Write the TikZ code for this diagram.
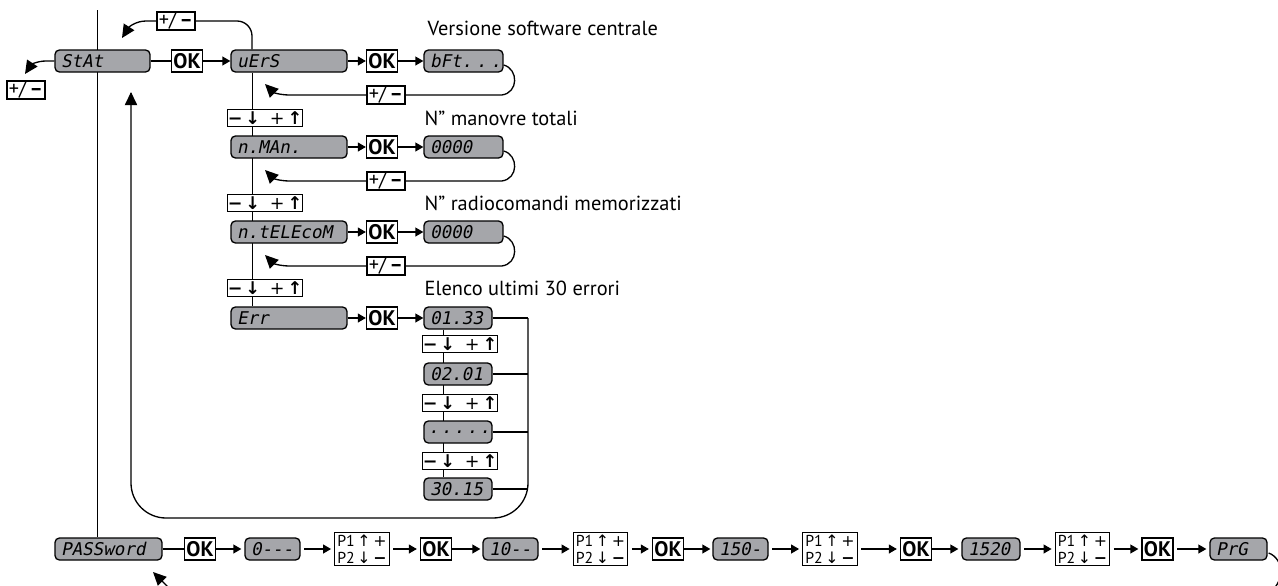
\documentclass[tikz,border=0pt]{standalone}
\usepackage{fontspec}
\setmainfont{PT Sans}
\newfontfamily\lcd{DejaVu Sans Mono}[FakeSlant=0.2]
\newfontfamily\sym{DejaVu Sans}
\usetikzlibrary{arrows.meta,backgrounds,calc}
\definecolor{lcdgray}{RGB}{165,166,170}
\newcommand\updn{{\sym\bfseries\char"2212}\,{\sym\bfseries\char"2193}\;\;{\sym +}\,{\sym\bfseries\char"2191}}
\newcommand\pmtxt{+/\,\textbf{\char"2013}}
\newcommand\pptxt{P1\,{\sym\char"2191}\,{\sym +}\\P2\,{\sym\char"2193}\,{\sym\bfseries\char"2212}}
\begin{document}
\begin{tikzpicture}[x=0.02cm,y=-0.02cm,line width=0.75pt,
  disp/.style={draw,fill=lcdgray,rounded corners=2.5pt,minimum height=0.44cm,text width=#1,align=left,inner xsep=0.12cm,inner ysep=0pt,font=\lcd\fontsize{10}{10}\selectfont},
  okbox/.style={draw,fill=white,minimum width=0.62cm,minimum height=0.44cm,inner sep=0pt,font=\bfseries\fontsize{12}{12}\selectfont},
  updown/.style={draw,fill=white,minimum width=1.44cm,minimum height=0.34cm,inner sep=0pt,font=\fontsize{10}{10}\selectfont},
  pmbox/.style={draw,fill=white,minimum width=0.76cm,minimum height=0.36cm,inner sep=0pt,font=\fontsize{11.5}{11.5}\selectfont},
  pbox/.style={draw,fill=white,minimum width=1.08cm,minimum height=0.66cm,inner xsep=1.5pt,inner ysep=0.5pt,align=left,font=\fontsize{9}{9.6}\selectfont},
  lbl/.style={anchor=west,inner sep=0pt,font=\fontsize{11.6}{11.6}\selectfont},
  conn/.style={-{Triangle[length=4.5pt,width=5pt]}},
  barrow/.style={-{Triangle[length=4.5pt,width=5pt]},shorten <=0.07cm,shorten >=0.06cm},
  big/.style={-{Triangle[length=7.5pt,width=7pt]}}
]
\useasboundingbox (0,0) rectangle (1278,585);
\clip (0,0) rectangle (1278,585);
\coordinate (top) at (97,10);
\coordinate (vx) at (252,0);
\coordinate (ex) at (443,0);
\coordinate (rx) at (528,0);
\coordinate (lx) at (131,0);

% top structure
\node[disp=1.66cm] (stat) at (102.5,61) {StAt};
\node[okbox] (ok1) at (187,61) {OK};
\node[disp=2.08cm] (vers) at (289,61) {uErS};
\node[okbox] (ok2) at (382,61) {OK};
\node[disp=1.34cm] (bft) at (463.5,61) {\makebox[\linewidth][l]{bFt.\kern2.2pt.\kern2.2pt.}};
\node[pmbox] (ptop) at (176,21) {\pmtxt};
\node[pmbox] (pst) at (26,90) {\pmtxt};
\node[pmbox] (pm1) at (386,95) {\pmtxt};
\node[updown] (b1) at (265,118) {\updn};
\node[disp=2.08cm] (nman) at (289,147) {n.MAn.};
\node[okbox] (ok3) at (382,147) {OK};
\node[disp=1.34cm] (v2) at (463.5,147) {0000};
\node[pmbox] (pm2) at (386,181) {\pmtxt};
\node[updown] (b2) at (265,203) {\updn};
\node[disp=2.08cm] (ntel) at (289,232) {n.tELEcoM};
\node[okbox] (ok4) at (382,232) {OK};
\node[disp=1.34cm] (v3) at (463.5,232) {0000};
\node[pmbox] (pm3) at (386,266) {\pmtxt};
\node[updown] (b3) at (265,288) {\updn};
\node[disp=2.08cm] (err) at (289,318) {Err};
\node[okbox] (ok5) at (382,318) {OK};
\node[disp=1.12cm] (e1) at (458,318) {01.33};
\node[updown] (bb1) at (460,344) {\updn};
\node[disp=1.12cm] (e2) at (458,374) {02.01};
\node[updown] (bb2) at (460,403) {\updn};
\node[disp=1.12cm] (e3) at (458,432) {\makebox[\linewidth][l]{\kern-1pt.\kern1.3pt.\kern1.3pt.\kern1.3pt.\kern1.3pt.}};
\node[updown] (bb3) at (460,461) {\updn};
\node[disp=1.12cm] (e4) at (458,489) {30.15};

\node[lbl] (t1) at (427,28) {Versione software centrale};
\node[lbl] (t2) at (424,118) {N” manovre totali};
\node[lbl] (t3) at (424,203) {N” radiocomandi memorizzati};
\node[lbl] (t4) at (424,288) {Elenco ultimi 30 errori};

% bottom row
\node[disp=1.9cm] (pw) at (108.5,549) {PASSword};
\node[okbox] (okb1) at (200,549) {OK};
\node[disp=0.86cm] (d1) at (272.5,549) {0-{}-{}-};
\node[pbox] (p1a) at (362,549) {\pptxt};
\node[okbox] (okb2) at (436,549) {OK};
\node[disp=0.86cm] (d2) at (510.5,549) {10-{}-};
\node[pbox] (p1b) at (600.5,549) {\pptxt};
\node[okbox] (okb3) at (668,549) {OK};
\node[disp=0.86cm] (d3) at (740.5,549) {150-};
\node[pbox] (p1c) at (830,549) {\pptxt};
\node[okbox] (okb4) at (916,549) {OK};
\node[disp=0.92cm] (d4) at (991,549) {1520};
\node[pbox] (p1d) at (1082.5,549) {\pptxt};
\node[okbox] (okb5) at (1157.5,549) {OK};
\node[disp=0.9cm] (d5) at (1238.5,549) {PrG};

\coordinate (pwin) at (153,572);
\coordinate (pwfrom) at (180,599);

\begin{scope}[on background layer]
\draw (top) -- (top |- pw.north);
\draw (vx |- vers.south) -- (vx |- err.north);
\draw (ex |- e1.south) -- (ex |- e4.north);
\end{scope}

% row connectors
\draw (stat) -- (ok1);
\draw[conn] (ok1) -- (vers);
\draw[conn] (vers) -- (ok2);
\draw[conn] (ok2) -- (bft);
\draw[conn] (nman) -- (ok3);
\draw[conn] (ok3) -- (v2);
\draw[conn] (ntel) -- (ok4);
\draw[conn] (ok4) -- (v3);
\draw[conn] (err) -- (ok5);
\draw[conn] (ok5) -- (e1);

% loops
\draw[rounded corners=0.3cm] (vx |- vers.north) -- (vx |- ptop) -- (ptop.east);
\draw[big] (ptop.west) -- (146,21) .. controls (136,21) and (129,27) .. (122,38);
\draw[big] (stat.west) -- (46,61) .. controls (37,61) and (31,65) .. (25,74);

\draw ($(bft.east)+(0,4)$) .. controls ($(bft.east)+(15,8)$) and ($(bft.east)+(15,32)$) .. ($(bft.east)+(-2,34)$) -- (pm1.east);
\draw[big] (pm1.west) -- (290,95) .. controls (279,95) and (273,92) .. (265,84);
\draw ($(v2.east)+(0,4)$) .. controls ($(v2.east)+(15,8)$) and ($(v2.east)+(15,32)$) .. ($(v2.east)+(-2,34)$) -- (pm2.east);
\draw[big] (pm2.west) -- (290,181) .. controls (279,181) and (273,178) .. (265,170);
\draw ($(v3.east)+(0,4)$) .. controls ($(v3.east)+(15,8)$) and ($(v3.east)+(15,32)$) .. ($(v3.east)+(-2,34)$) -- (pm3.east);
\draw[big] (pm3.west) -- (290,266) .. controls (279,266) and (273,263) .. (265,255);

% error list to big loop
\draw (e1) -- (rx |- e1);
\draw (e2) -- (rx |- e2);
\draw (e3) -- (rx |- e3);
\draw (e4) -- (rx |- e4);
\draw[big,rounded corners=0.7cm] (rx |- e1) -- (528,518) -- (131,518) -- (lx |- stat.south) -- (131,92);

% bottom connectors
\draw (pw) -- (okb1);
\draw[conn,shorten >=0.06cm] (okb1) -- (d1);
\draw[barrow] (d1) -- (p1a);
\draw[barrow] (p1a) -- (okb2);
\draw[conn,shorten >=0.04cm] (okb2) -- (d2);
\draw[barrow] (d2) -- (p1b);
\draw[barrow] (p1b) -- (okb3);
\draw[conn,shorten >=0.04cm] (okb3) -- (d3);
\draw[barrow] (d3) -- (p1c);
\draw[barrow] (p1c) -- (okb4);
\draw[conn,shorten >=0.06cm] (okb4) -- (d4);
\draw[barrow] (d4) -- (p1d);
\draw[barrow] (p1d) -- (okb5);
\draw[barrow] (okb5) -- (d5);
\draw[big] (pwfrom) -- (pwin);
\draw ($(d5.east)+(1,4)$) .. controls ($(d5.east)+(17,10)$) and ($(d5.east)+(17,34)$) .. ($(d5.east)+(1,44)$);
\end{tikzpicture}
\end{document}
